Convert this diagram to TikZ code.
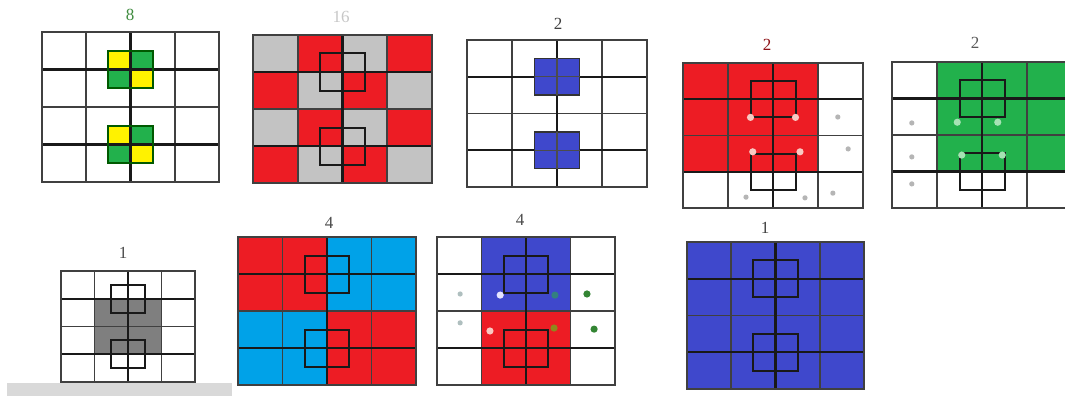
\documentclass[tikz,border=0pt]{standalone}
\usepackage{fontspec}
\setmainfont{Liberation Serif}
\definecolor{pred}{HTML}{ED1C24}
\definecolor{pgreen}{HTML}{22B14C}
\definecolor{pyellow}{HTML}{FFF200}
\definecolor{pblue}{HTML}{3F48CC}
\definecolor{pcyan}{HTML}{00A2E8}
\definecolor{pgray}{HTML}{C3C3C3}
\definecolor{dgray}{HTML}{7F7F7F}
\definecolor{gridgray}{HTML}{404040}
\definecolor{dotgray}{HTML}{B5B5B5}
\definecolor{dotpink}{HTML}{F8C9C2}
\definecolor{dotlgreen}{HTML}{A6E3B4}
\newcommand{\mygrid}{%
  \draw[gl] (1,0)--(1,4); \draw[gl] (3,0)--(3,4); \draw[gl] (0,2)--(4,2);
  \draw[gk] (2,0)--(2,4); \draw[gk] (0,1)--(4,1); \draw[gk] (0,3)--(4,3);
  \draw[gl] (0,0) rectangle (4,4);
}
\newcommand{\mysquares}{%
  \draw[sq] (1.5,0.5) rectangle (2.5,1.5);
  \draw[sq] (1.5,2.5) rectangle (2.5,3.5);
}
\begin{document}
\begin{tikzpicture}[x=1pt,y=-1pt,
  gl/.style={line width=1.7pt, draw=gridgray},
  gk/.style={line width=2.4pt, draw=black!90},
  sq/.style={line width=2pt, draw=black!90},
  lbl/.style={font=\fontsize{17}{19}\selectfont, inner sep=0pt},
  dotb/.style={radius=3.6pt},
  dots/.style={radius=2.6pt}]
\useasboundingbox (0,0) rectangle (1065,396);
\clip (0,0) rectangle (1065,396);
\fill[white] (0,0) rectangle (1065,396);

% grid 1 : 8
\begin{scope}[shift={(42,32)}, x=44.25pt, y=-37.5pt]
  \fill[pyellow] (1.5,0.5) rectangle (2,1);
  \fill[pgreen] (2,0.5) rectangle (2.5,1);
  \fill[pgreen] (1.5,1) rectangle (2,1.5);
  \fill[pyellow] (2,1) rectangle (2.5,1.5);
  \fill[pyellow] (1.5,2.5) rectangle (2,3);
  \fill[pgreen] (2,2.5) rectangle (2.5,3);
  \fill[pgreen] (1.5,3) rectangle (2,3.5);
  \fill[pyellow] (2,3) rectangle (2.5,3.5);
  \mygrid
  \draw[sq, draw=green!35!black] (1.5,0.5) rectangle (2.5,1.5);
  \draw[sq, draw=green!35!black] (1.5,2.5) rectangle (2.5,3.5);
\end{scope}
\node[lbl, text=black!40!green!50!gray] (l1) at (130,15) {8};

% grid 2 : 16
\begin{scope}[shift={(253,35)}, x=44.75pt, y=-37pt]
  \foreach \c in {0,...,3} \foreach \r in {0,...,3} {
    \pgfmathtruncatemacro{\pp}{mod(\c+\r,2)}
    \ifnum\pp=0 \fill[pgray] (\c,\r) rectangle ++(1,1); \else \fill[pred] (\c,\r) rectangle ++(1,1); \fi
  }
  \mygrid \mysquares
\end{scope}
\node[lbl, text=black!22] (l2) at (341,17) {16};

% grid 3 : 2
\begin{scope}[shift={(467,40)}, x=45pt, y=-36.75pt]
  \mygrid
  \draw[fill=pblue, draw=black!80, line width=1.4pt] (1.5,0.5) rectangle (2.5,1.5);
  \draw[fill=pblue, draw=black!80, line width=1.4pt] (1.5,2.5) rectangle (2.5,3.5);
  \draw[draw=black!70, line width=1.4pt] (2,0.5)--(2,1.5) (1.5,1)--(2.5,1) (2,2.5)--(2,3.5) (1.5,3)--(2.5,3);
\end{scope}
\node[lbl, text=black!75] (l3) at (558,24) {2};

% grid 4 : 2 red
\begin{scope}[shift={(683,63)}, x=45pt, y=-36.25pt]
  \fill[pred] (0,0) rectangle (3,3);
  \mygrid \mysquares
  \fill[dotpink] (1.5,1.5) circle[dotb] (2.5,1.5) circle[dotb] (1.55,2.45) circle[dotb] (2.6,2.45) circle[dotb];
  \fill[dotgray] (3.44,1.49) circle[dots] (3.67,2.37) circle[dots] (1.4,3.7) circle[dots] (2.71,3.72) circle[dots] (3.33,3.59) circle[dots];
\end{scope}
\node[lbl, text=pred!60!black] (l4) at (767,45) {2};

% grid 5 : 2 green
\begin{scope}[shift={(892,62)}, x=45pt, y=-36.5pt]
  \fill[pgreen] (1,0) rectangle (4,3);
  \mygrid \mysquares
  \fill[dotlgreen] (1.45,1.65) circle[dotb] (2.35,1.65) circle[dotb] (1.55,2.55) circle[dotb] (2.45,2.55) circle[dotb];
  \fill[dotgray] (0.44,1.67) circle[dots] (0.44,2.6) circle[dots] (0.44,3.34) circle[dots];
\end{scope}
\node[lbl, text=black!65] (l5) at (975,43) {2};

% grid 6 : 1 gray
\begin{scope}[shift={(61,271)}, x=33.5pt, y=-27.75pt]
  \fill[dgray] (1,1) rectangle (3,3);
  \mygrid \mysquares
\end{scope}
\node[lbl, text=black!70] (l6) at (123,253) {1};

% grid 7 : 4
\begin{scope}[shift={(238,237)}, x=44.5pt, y=-37pt]
  \fill[pred] (0,0) rectangle (2,2);
  \fill[pcyan] (2,0) rectangle (4,2);
  \fill[pcyan] (0,2) rectangle (2,4);
  \fill[pred] (2,2) rectangle (4,4);
  \mygrid \mysquares
\end{scope}
\node[lbl, text=black!70] (l7) at (329,223) {4};

% grid 8 : 4
\begin{scope}[shift={(437,237)}, x=44.5pt, y=-37pt]
  \fill[pblue] (1,0) rectangle (3,2);
  \fill[pred] (1,2) rectangle (3,4);
  \mygrid \mysquares
  \fill[blue!10!white] (1.42,1.57) circle[dotb];
  \fill[teal!60!gray] (2.65,1.57) circle[dotb];
  \fill[dotpink] (1.19,2.54) circle[dotb];
  \fill[olive!80!gray] (2.63,2.46) circle[dotb];
  \fill[teal!25!gray!50] (0.52,1.54) circle[dots] (0.52,2.32) circle[dots];
  \fill[green!40!black!80] (3.37,1.54) circle[dotb] (3.53,2.49) circle[dotb];
\end{scope}
\node[lbl, text=black!70] (l8) at (520,220) {4};

% grid 9 : 1 blue
\begin{scope}[shift={(687,242)}, x=44.25pt, y=-36.75pt]
  \fill[pblue] (0,0) rectangle (4,4);
  \mygrid \mysquares
\end{scope}
\node[lbl, text=black!75] (l9) at (765,228) {1};

% watermark bar
\fill[black!15] (7,383) rectangle (232,397);
\end{tikzpicture}
\end{document}
